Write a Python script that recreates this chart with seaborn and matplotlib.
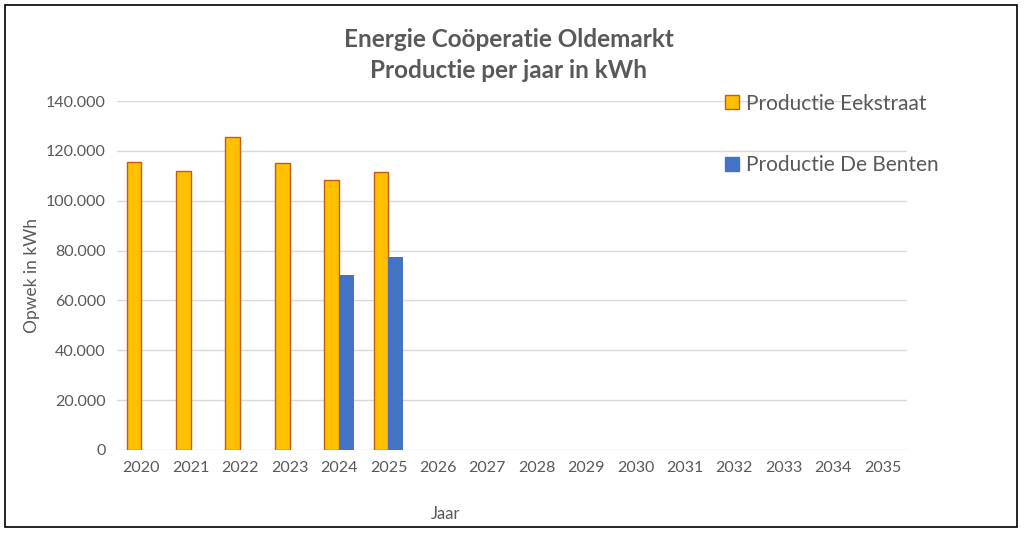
import matplotlib.pyplot as plt
import numpy as np
import pandas as pd
import seaborn as sns
from matplotlib.patches import Rectangle

sns.set_theme(style="white")
plt.rcParams["font.family"] = ["Lato", "DejaVu Sans"]

years = [str(y) for y in range(2020, 2036)]
eekstraat = [115500, 111900, 125500, 115100, 108200, 111400] + [np.nan] * 10
benten = [np.nan] * 4 + [70300, 77400] + [np.nan] * 10

series = ["Productie Eekstraat", "Productie De Benten"]
colors = ["#FFC000", "#4472C4"]
grey = "#595959"

df = pd.DataFrame({
    "Jaar": years * 2,
    "kWh": eekstraat + benten,
    "Serie": [series[0]] * len(years) + [series[1]] * len(years),
})

fig = plt.figure(figsize=(10.24, 5.35), dpi=100)
ax = fig.add_axes([0.114, 0.159, 0.772, 0.652])

sns.barplot(data=df, x="Jaar", y="kWh", hue="Serie", order=years,
            hue_order=series, palette=colors, width=0.6, ax=ax,
            errorbar=None, legend=False, saturation=1)

for bar in ax.containers[0]:
    bar.set_edgecolor("#C55A11")
    bar.set_linewidth(1.0)
for bar in ax.containers[1]:
    bar.set_linewidth(0)

ax.set_ylim(0, 140000)
ax.set_yticks(range(0, 140001, 20000))
ax.set_yticklabels(["0"] + [f"{v:,}".replace(",", ".") for v in range(20000, 140001, 20000)])
ax.set_xlim(-0.5, len(years) - 0.5)
ax.yaxis.grid(True, color="#D9D9D9", linewidth=1)
ax.set_axisbelow(True)
for s in ax.spines.values():
    s.set_visible(False)
ax.tick_params(axis="both", colors=grey, labelsize=11.5, length=0, pad=8)

ax.set_xlabel("Jaar", color=grey, fontsize=12)
ax.xaxis.set_label_coords(0.416, -0.16)
ax.set_ylabel("Opwek in kWh", color=grey, fontsize=12.5, labelpad=4)

fig.suptitle("Energie Coöperatie Oldemarkt\nProductie per jaar in kWh",
             x=0.497, y=0.948, fontsize=17.5, fontweight="bold", color=grey,
             linespacing=1.45)

handles = [Rectangle((0, 0), 1, 1, facecolor=colors[0], edgecolor="#C55A11"),
           Rectangle((0, 0), 1, 1, facecolor=colors[1], edgecolor=colors[1])]
leg = fig.legend(handles, series, loc="upper left", bbox_to_anchor=(0.69, 0.86),
                 frameon=False, fontsize=15, labelcolor=grey, handlelength=0.65,
                 handleheight=0.65, handletextpad=0.35, labelspacing=2.0)

fig.patches.append(Rectangle((0.005, 0.015), 0.988, 0.975, transform=fig.transFigure,
                             fill=False, edgecolor="black", linewidth=1.2))

plt.savefig("out.png", dpi=100)
